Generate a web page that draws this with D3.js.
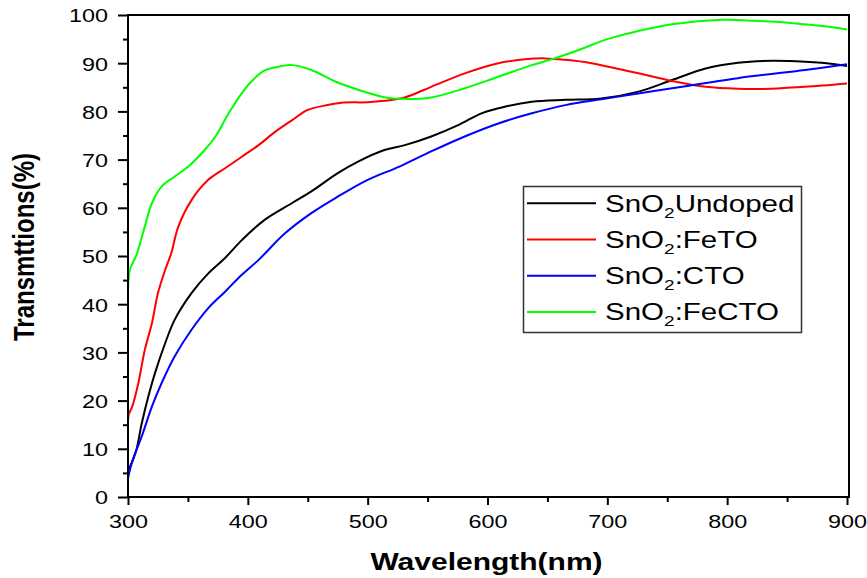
<!DOCTYPE html>
<html><head><meta charset="utf-8">
<script src="https://cdn.jsdelivr.net/npm/d3@7"></script>
<style>
body{margin:0;background:#fff}
svg{display:block}
text{font-family:"Liberation Sans",Arial,sans-serif;fill:#000}
</style>
</head><body>
<svg id="c" width="867" height="578"></svg>
<script>
// ---------- data ----------
const seriesLabels = ["Undoped", ":FeTO", ":CTO", ":FeCTO"];
const seriesColors = ["#000000", "#ff0000", "#0000ff", "#00ff00"];

const undopedWl = [300,303,307,311.5,317,322.5,331,339,353,367,381,395,414,437,453,475,492,514,531,553,576,595,615,637,665,695,726,754,782,809,837,865,890,900];
const undopedT  = [5.5,7,9.8,15.3,20.9,25.7,31.9,36.8,42.3,46.4,49.6,53.3,57.5,61,63.4,67.2,69.6,72,73,74.8,77.2,79.6,81,82,82.4,82.7,84.1,86.5,88.9,90.1,90.5,90.3,89.8,89.4];

const fetoWl = [300,300.5,303.6,308.6,314,320,325,331,336,342,353,367,381,395,409,423,437,450,464,478,500,514,531,553,581,609,631,648,665,687,702,726,754,782,809,837,865,900];
const fetoT  = [14.3,17,18.8,23.6,30.5,36.1,42.3,47.1,50.5,56.1,61.6,65.8,68.2,70.6,73,75.8,78.2,80.3,81.2,81.8,81.9,82.2,82.9,85.1,87.9,90,90.8,91,90.7,90,89.2,87.9,86.3,85.1,84.7,84.7,85.1,85.8];

const ctoWl = [300,302,304,311.5,320,328,339,353,367,381,395,409,431,453,475,500,526,553,581,609,637,665,700,754,809,865,900];
const ctoT  = [3.8,6,7.7,12.6,18.8,23.6,29.2,34.7,39.2,42.6,46.1,49.2,54.7,58.9,62.3,65.8,68.5,71.7,74.8,77.5,79.6,81.3,82.7,84.8,86.9,88.6,89.8];

const fectoWl = [300,301.5,307,314,320,328,339,350,364,373,384,395,403,414,428,437,453,473,492,515,528,553,581,609,637,656,679,700,726,754,796,823,851,879,900];
const fectoT  = [42.3,47.1,50.2,56.1,61,64.4,66.5,68.5,72,74.8,79.6,83.8,86.2,88.5,89.4,89.6,88.6,86.2,84.5,82.9,82.6,82.9,84.8,87.2,89.6,91,93,95,96.7,98.1,99,98.8,98.4,97.7,97];

const xMajorTicks = [300,400,500,600,700,800,900];
const xMinorTicks = [350,450,550,650,750,850];
const yMajorTicks = [0,10,20,30,40,50,60,70,80,90,100];
const yMinorTicks = [5,15,25,35,45,55,65,75,85,95];

const xTitle = "Wavelength(nm)";
const yTitle = "Transmttions(%)";

// ---------- chart ----------
const SX = 1.23; // horizontal stretch of the reference glyphs
const svg = d3.select("#c");
const x = d3.scaleLinear().domain([300,900]).range([128,847]);
const y = d3.scaleLinear().domain([0,100]).range([497,15]);

const series = [
  {wl: undopedWl, t: undopedT},
  {wl: fetoWl, t: fetoT},
  {wl: ctoWl, t: ctoT},
  {wl: fectoWl, t: fectoT}
];

const line = d3.line().x(d => x(d[0])).y(d => y(d[1])).curve(d3.curveCatmullRom.alpha(0.5));
const plot = svg.append("g");
series.forEach((s, i) => {
  plot.append("path")
    .datum(s.wl.map((w, k) => [w, s.t[k]]))
    .attr("d", line)
    .attr("fill", "none")
    .attr("stroke", seriesColors[i])
    .attr("stroke-width", 2)
    .attr("stroke-linejoin", "round");
});

// frame (top and right)
svg.append("line").attr("x1", x(300)).attr("x2", x(900) + 2).attr("y1", y(100)).attr("y2", y(100))
  .attr("stroke", "#000").attr("stroke-width", 2);
svg.append("line").attr("x1", x(900) + 2).attr("x2", x(900) + 2).attr("y1", y(100) - 1).attr("y2", y(0))
  .attr("stroke", "#000").attr("stroke-width", 2);

// x axis
const gx = svg.append("g").attr("transform", `translate(0,${y(0)})`);
gx.call(d3.axisBottom(x).tickValues(xMajorTicks).tickSize(8).tickSizeOuter(0).tickFormat(d3.format("d")));
gx.append("g").call(d3.axisBottom(x).tickValues(xMinorTicks).tickSize(5).tickSizeOuter(0).tickFormat(""))
  .select(".domain").remove();
gx.selectAll("path.domain").attr("stroke-width", 2).attr("d", `M${x(300)-1},0H${x(900)+3}`);
gx.selectAll(".tick line").attr("stroke-width", 2);
gx.selectAll(".tick text")
  .attr("y", 18).attr("dy", "0.71em")
  .attr("transform", `scale(${SX},1)`)
  .style("font-size", "19px").attr("fill", "#000");

// y axis
const gy = svg.append("g").attr("transform", `translate(${x(300)},0)`);
gy.call(d3.axisLeft(y).tickValues(yMajorTicks).tickSize(10).tickSizeOuter(0).tickFormat(d3.format("d")));
gy.append("g").call(d3.axisLeft(y).tickValues(yMinorTicks).tickSize(5).tickSizeOuter(0).tickFormat(""))
  .select(".domain").remove();
gy.selectAll("path.domain").attr("stroke-width", 2).attr("d", `M0,${y(0)+1}V${y(100)-1}`);
gy.selectAll(".tick line").attr("stroke-width", 2);
gy.selectAll(".tick text")
  .attr("x", -20 / SX).attr("dy", "0.36em")
  .attr("transform", `scale(${SX},1)`)
  .style("font-size", "19px").attr("fill", "#000");

// axis titles
svg.append("text")
  .attr("transform", `translate(${(x(300) + x(900)) / 2 - 1},570) scale(1.25,1)`)
  .attr("text-anchor", "middle")
  .style("font-size", "24px").style("font-weight", "bold")
  .text(xTitle);
svg.append("text")
  .attr("transform", `translate(34,247) rotate(-90) scale(1,1.22)`)
  .attr("text-anchor", "middle")
  .style("font-size", "24px").style("font-weight", "bold")
  .text(yTitle);

// legend
const lg = svg.append("g");
lg.append("rect").attr("x", 523.5).attr("y", 186.5).attr("width", 278).attr("height", 146)
  .attr("fill", "#fff").attr("stroke", "#333").attr("stroke-width", 1.5);
const rowY = [203.3, 239.5, 275.7, 311.9];
seriesLabels.forEach((lab, i) => {
  lg.append("line").attr("x1", 527).attr("x2", 596).attr("y1", rowY[i]).attr("y2", rowY[i])
    .attr("stroke", seriesColors[i]).attr("stroke-width", 2);
  const t = lg.append("text")
    .attr("transform", `translate(605,${rowY[i] + 8.5}) scale(${SX},1)`)
    .style("font-size", "24px");
  t.append("tspan").text("SnO");
  t.append("tspan").attr("dy", 6).style("font-size", "15.5px").text("2");
  t.append("tspan").attr("dy", -6).text(lab);
});
</script>
</body></html>
